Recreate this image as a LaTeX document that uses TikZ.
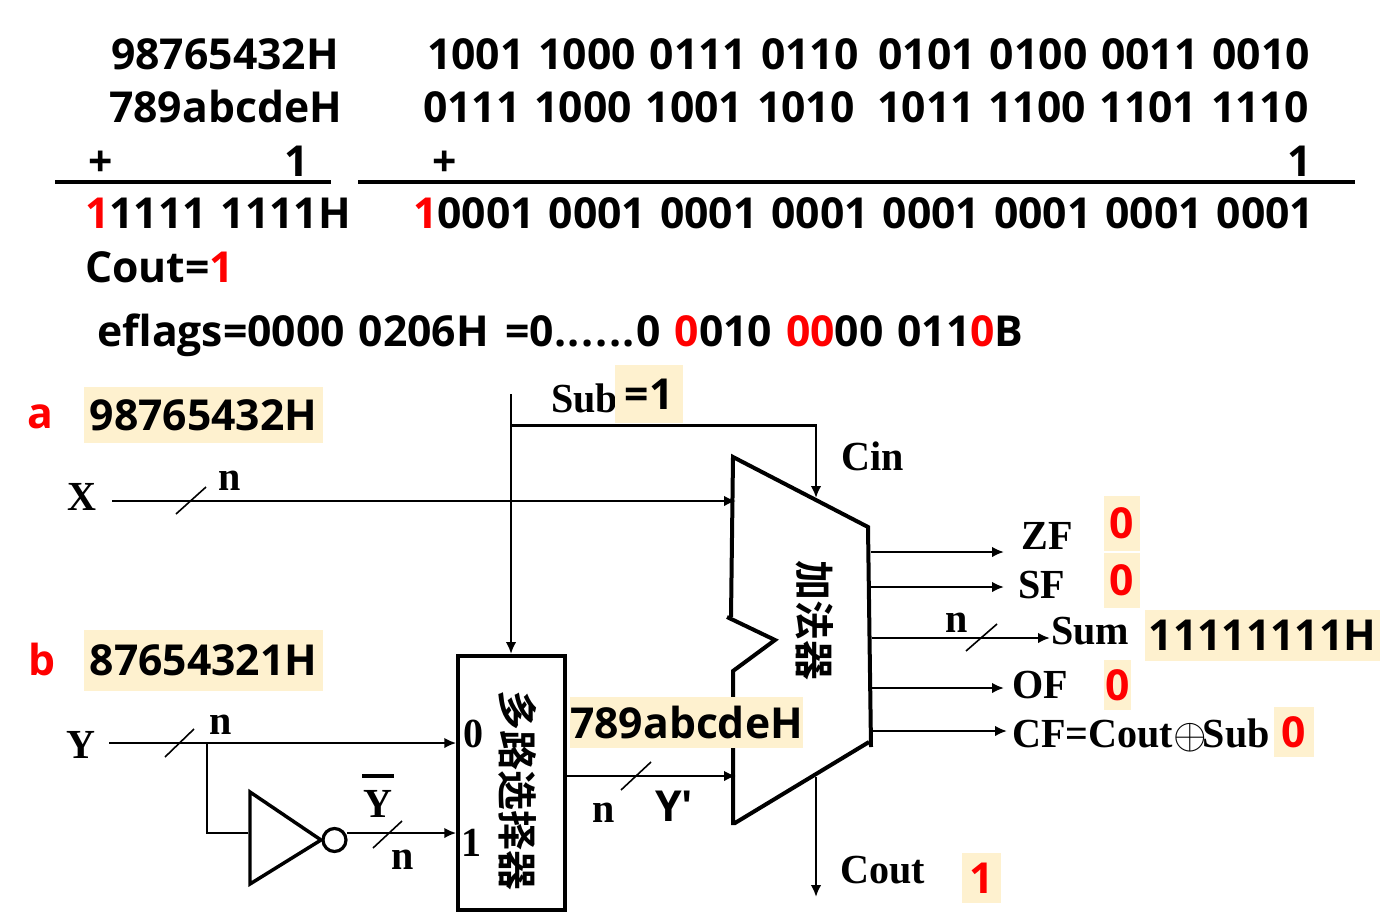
\documentclass[tikz,border=0pt]{standalone}
\usepackage{fontspec}
\usetikzlibrary{arrows.meta,calc}
\newfontfamily\yhfont[WordSpace=1.25]{Open Sans Bold}
\newfontfamily\serbold[FakeStretch=0.97]{Liberation Serif Bold}
\newfontfamily\cjkb{Noto Sans CJK SC Bold}
\definecolor{hl}{HTML}{FEF1CF}
\definecolor{redt}{HTML}{FF0000}
\newcommand{\rd}[1]{\textcolor{redt}{#1}}
\tikzset{
  x=0.75pt,y=-0.75pt,
  >={Latex[length=9pt,width=8pt]},
  thinw/.style={line width=2pt},
  thickw/.style={line width=3pt},
  slash/.style={line width=1.2pt},
  sans/.style={inner sep=0pt,anchor=base west,font=\yhfont\fontsize{32}{36}\selectfont},
  ser/.style={inner sep=0pt,anchor=base west,font=\serbold\fontsize{31}{34}\selectfont},
  hlbox/.style={fill=hl,inner sep=0pt,font=\yhfont\fontsize{32}{36}\selectfont},
  cjklabel/.style={inner sep=0pt,rotate=-90,font=\cjkb\fontsize{30}{34}\selectfont},
}
\begin{document}
\begin{tikzpicture}
\useasboundingbox (0,0) rectangle (1380,913);
% arithmetic
\node[sans] (h1) at (111,70) {98765432H};
\node[sans] (h2) at (109,123) {789abcdeH};
\node[sans] (hp) at (88,176) {+};
\node[sans] (ho) at (284,176) {1};
\node[sans] (hr) at (85,228) {\rd{1}1111 1111H};
\node[sans] (co) at (85,282) {Cout=\rd{1}};
\node[sans] (b1) at (427,70) {1001 1000 0111 0110\hspace{15pt}0101 0100 0011 0010};
\node[sans] (b2) at (423,123) {0111 1000 1001 1010\hspace{17pt}1011 1100 1101 1110};
\node[sans] (bp) at (432,176) {+};
\node[sans] (bo) at (1287,176) {1};
\node[sans] (br) at (413,228) {\rd{1}0001 0001 0001 0001 0001 0001 0001 0001};
\node[sans] (ef) at (97,346) {eflags=0000 0206H\hspace{2pt} =0.\kern1.2pt.\kern1.2pt.\kern1.2pt.\kern1.2pt.\kern1.2pt.\kern1.2pt0 \rd{0}010 \rd{00}00 011\rd{0}B};
\coordinate (r1a) at (55,182); \coordinate (r1b) at (331,182);
\coordinate (r2a) at (358,182); \coordinate (r2b) at (1355,182);
\draw[thickw] (r1a) -- (r1b);
\draw[thickw] (r2a) -- (r2b);
% adder
\coordinate (ta) at (733,457); \coordinate (tb) at (868,527);
\coordinate (tc) at (871,747); \coordinate (td) at (869,742);
\coordinate (te) at (735,823); \coordinate (tf) at (733,671);
\coordinate (tg) at (775,640); \coordinate (th) at (727,617);
\coordinate (ti) at (731,617);
\draw[thickw,line join=miter] (ti) -- (ta) -- (tb) -- (tc);
\draw[thickw,line join=miter] (th) -- (tg) -- (tf) -- (733,823) -- (te) -- (td);
\node[cjklabel] (add) at (815,620) {加法器};
% mux
\node[draw,thickw,minimum width=106.5*0.75pt,minimum height=254*0.75pt,inner sep=0pt] (mux) at (511.5,783) {};
\node[cjklabel] (muxt) at (518,790) {多路选择器};
% sub
\node[ser] (sub) at (551,412) {Sub};
\node[ser] (cin) at (841,470) {Cin};
\coordinate (s0) at (511,394);
\coordinate (s1) at (511,425.5);
\coordinate (s2) at (816,425.5);
\coordinate (s3) at (816,498);
\draw[thinw,->] (s0) -- (s0 |- mux.north);
\draw[thinw,->] (s1) -- (s2) -- (s3);
% X
\node[ser] (xl) at (67,510) {X};
\node[ser] (xn) at (218,490) {n};
\coordinate (xa) at (112,501); \coordinate (xb) at (736,501);
\draw[thinw,->] (xa) -- (xb);
\coordinate (xs1) at (176,514); \coordinate (xs2) at (206,487);
\draw[slash] (xs1) -- (xs2);
% Y
\node[ser] (yl) at (66,758) {Y};
\node[ser] (yn) at (209,734) {n};
\coordinate (ya) at (109,743); \coordinate (yj) at (207,743);
\draw[thinw,->] (ya) -- (ya -| mux.west);
\coordinate (ys1) at (165,757); \coordinate (ys2) at (194,729);
\draw[slash] (ys1) -- (ys2);
\coordinate (yk) at (207,833); \coordinate (yl2) at (248,833);
\draw[thinw] (yj) -- (yk) -- (yl2);
% inverter
\coordinate (ia) at (250,792); \coordinate (ib) at (321,840); \coordinate (ic) at (250,884);
\draw[line width=2.6pt,line join=miter] (ia) -- (ib) -- (ic) -- cycle;
\node[draw,circle,line width=2.4pt,minimum size=23*0.75pt,inner sep=0pt] (bub) at (334.5,840) {};
\coordinate (io) at (347,833);
\draw[thinw,->] (io) -- (io -| mux.west);
\coordinate (is1) at (373,848); \coordinate (is2) at (402,821);
\draw[slash] (is1) -- (is2);
\node[ser] (ybar) at (363,817) {Y};
\coordinate (yb1) at (362,776); \coordinate (yb2) at (394,776);
\draw[thickw] (yb1) -- (yb2);
\node[ser] (inn) at (391,869) {n};
\node[ser] (m0) at (463,747) {0};
\node[ser] (m1) at (461,856) {1};
% mux out
\coordinate (mo) at (565,776); \coordinate (me) at (736,776);
\draw[thinw,->] (mo) -- (me);
\coordinate (ms1) at (621,790); \coordinate (ms2) at (651,762);
\draw[slash] (ms1) -- (ms2);
\node[ser] (mn) at (592,822) {n};
\node[sans] (yp) at (655,821) {Y'};
% outputs
\coordinate (z0) at (871,552); \coordinate (z1) at (1004,552);
\coordinate (f0) at (871,587); \coordinate (f1) at (1004,587);
\coordinate (u0) at (872,638); \coordinate (u1) at (1050,638);
\coordinate (o0) at (872,688); \coordinate (o1) at (1004,688);
\coordinate (c0) at (872,731); \coordinate (c1) at (1007,731);
\coordinate (t0) at (816,777); \coordinate (t1) at (816,897);
\draw[thinw,->] (z0) -- (z1);
\draw[thinw,->] (f0) -- (f1);
\draw[thinw,->] (u0) -- (u1);
\draw[thinw,->] (o0) -- (o1);
\draw[thinw,->] (c0) -- (c1);
\draw[thinw,->] (t0) -- (t1);
\coordinate (us1) at (966,651); \coordinate (us2) at (997,624);
\draw[slash] (us1) -- (us2);
\node[ser] (un) at (945,632) {n};
\node[ser] (zf) at (1021,549) {ZF};
\node[ser] (sf) at (1018,598) {SF};
\node[ser] (sm) at (1051,644) {Sum};
\node[ser] (of) at (1012,698) {OF};
\node[ser] (cf) at (1012,747) {CF=Cout\raisebox{-1pt}{\scalebox{1.3}{$\oplus$}}\kern-3pt Sub};
\node[ser] (ct) at (840,883) {Cout};
% highlighted values
\node[hlbox,minimum width=239*0.75pt,minimum height=56*0.75pt] (va) at (203.5,415) {98765432H};
\node[hlbox,minimum width=239*0.75pt,minimum height=61*0.75pt] (vb) at (203.5,660) {87654321H};
\node[hlbox,minimum width=68*0.75pt,minimum height=58*0.75pt] (v1) at (649,394) {=1};
\node[hlbox,minimum width=231*0.75pt,minimum height=51*0.75pt] (vy) at (686.5,722.5) {789abcdeH};
\node[hlbox,minimum width=36*0.75pt,minimum height=55*0.75pt,text=redt] (vz) at (1122,523.5) {0};
\node[hlbox,minimum width=36*0.75pt,minimum height=55*0.75pt,text=redt] (vs) at (1122,580.5) {0};
\node[hlbox,minimum width=235*0.75pt,minimum height=51*0.75pt] (vu) at (1262.5,635) {11111111H};
\node[hlbox,minimum width=27*0.75pt,minimum height=50*0.75pt,text=redt] (vo) at (1117.5,685) {0};
\node[hlbox,minimum width=40*0.75pt,minimum height=50*0.75pt,text=redt] (vc) at (1294,732) {0};
\node[hlbox,minimum width=39*0.75pt,minimum height=50*0.75pt,text=redt] (vt) at (981.5,878) {1};
\node[sans,text=redt] (la) at (27,428) {a};
\node[sans,text=redt] (lb) at (28,675) {b};
\end{tikzpicture}
\end{document}
